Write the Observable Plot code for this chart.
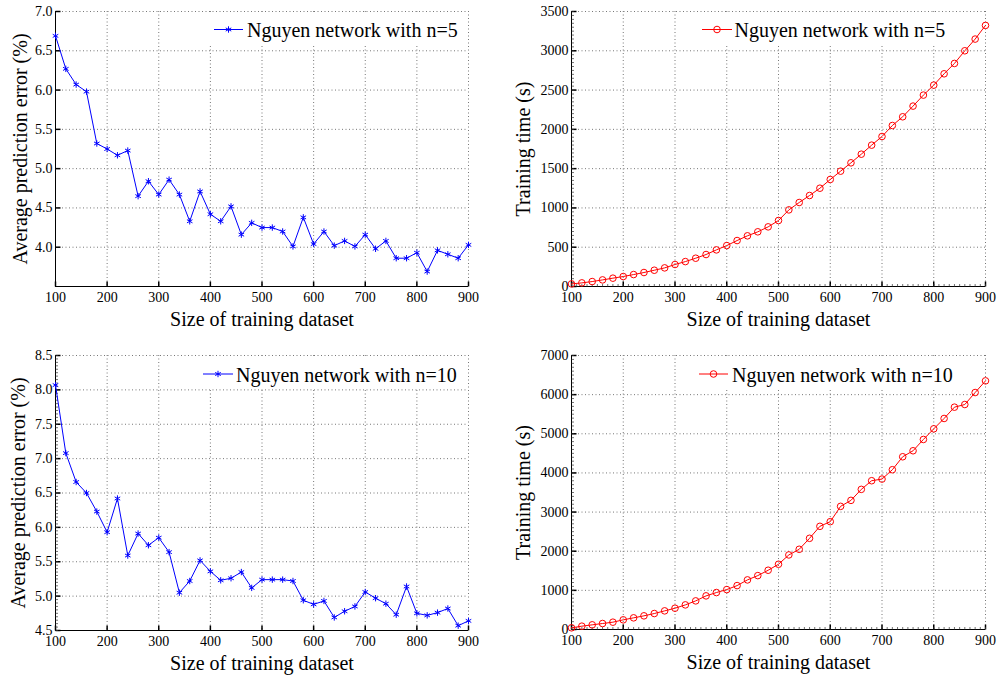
<!DOCTYPE html>
<html><head><meta charset="utf-8">
<script src="https://cdn.jsdelivr.net/npm/d3@7"></script>
<script src="https://cdn.jsdelivr.net/npm/@observablehq/plot@0.6"></script>
<style>
body{margin:0;background:#fff;}
#wrap{position:relative;width:1000px;height:680px;font-family:"Liberation Serif","Times New Roman",serif;}
.panel{position:absolute;}
.legend{position:absolute;}
</style></head><body><div id="wrap"></div>
<script>
// ---------- data ----------
const sizes = [100,120,140,160,180,200,220,240,260,280,300,320,340,360,380,400,420,440,460,480,500,520,540,560,580,600,620,640,660,680,700,720,740,760,780,800,820,840,860,880,900];
const errorN5 = [6.69,6.27,6.07,5.98,5.32,5.25,5.17,5.23,4.65,4.84,4.67,4.86,4.67,4.33,4.71,4.42,4.33,4.52,4.16,4.31,4.25,4.25,4.20,4.01,4.38,4.04,4.20,4.02,4.08,4.01,4.16,3.98,4.08,3.86,3.86,3.93,3.69,3.96,3.91,3.86,4.03];
const timeN5 = [33,46,63,84,106,127,152,178,207,237,280,317,360,407,466,521,585,645,696,759,840,975,1069,1158,1251,1362,1468,1574,1684,1799,1909,2049,2160,2296,2436,2563,2707,2839,3000,3149,3323];
const errorN10 = [8.07,7.08,6.66,6.50,6.23,5.93,6.42,5.59,5.91,5.74,5.85,5.64,5.05,5.22,5.52,5.36,5.23,5.26,5.35,5.12,5.24,5.24,5.24,5.22,4.94,4.88,4.93,4.69,4.78,4.85,5.06,4.97,4.89,4.73,5.14,4.75,4.72,4.76,4.82,4.57,4.64];
const timeN10 = [43,85,119,153,187,247,298,349,408,476,544,629,731,859,944,1020,1122,1267,1377,1514,1667,1905,2049,2330,2636,2755,3146,3299,3580,3801,3843,4082,4413,4566,4855,5127,5391,5680,5748,6054,6352];

const xTicks = [100,200,300,400,500,600,700,800,900];
const yTicksErr5 = [4.0,4.5,5.0,5.5,6.0,6.5,7.0];
const yTicksTime5 = [0,500,1000,1500,2000,2500,3000,3500];
const yTicksErr10 = [4.5,5.0,5.5,6.0,6.5,7.0,7.5,8.0,8.5];
const yTicksTime10 = [0,1000,2000,3000,4000,5000,6000,7000];

const xLabel = "Size of training dataset";
const errLabel = "Average prediction error (%)";
const timeLabel = "Training time (s)";
const legendN5 = "Nguyen network with n=5";
const legendN10 = "Nguyen network with n=10";

const BLUE = "#0000ff", RED = "#ff0000";
const FONT = "'Liberation Serif','Times New Roman',serif";

// tick-shaped custom symbols (inward ticks)
const tickUp = len => ({draw(ctx){ ctx.moveTo(0,0); ctx.lineTo(0,-len); }});
const tickRight = len => ({draw(ctx){ ctx.moveTo(0,0); ctx.lineTo(len,0); }});

const wrap = document.getElementById("wrap");

function panel(o) {
  const data = sizes.map((s,i) => ({size: s, value: o.values[i]}));
  const [x0, x1] = [100, 900];
  const marks = [
    Plot.gridX(xTicks, {stroke:"#777", strokeOpacity:1, strokeDasharray:"1,2.5"}),
    Plot.gridY(o.yTicks, {stroke:"#777", strokeOpacity:1, strokeDasharray:"1,2.5"}),
    Plot.axisX(xTicks, {tickSize:0, tickPadding:6, fontSize:14, label:null, fill:"#000"}),
    Plot.axisY(o.yTicks, {tickSize:0, tickPadding:3, fontSize:14, label:null, tickFormat:o.yFormat, fill:"#000"}),
    Plot.ruleX([x0], {stroke:"#000"}),
    Plot.ruleY([o.yDomain[0]], {stroke:"#000"}),
    Plot.dot(xTicks, {x:d=>d, frameAnchor:"bottom", symbol:tickUp(5), stroke:"#000", fill:"none"}),
    Plot.dot(o.yTicks, {y:d=>d, frameAnchor:"left", symbol:tickRight(5), stroke:"#000", fill:"none"})
  ];
  if (o.minorX) marks.push(Plot.dot(d3.range(x0, x1 + 1, o.minorX), {x:d=>d, frameAnchor:"bottom", symbol:tickUp(2.5), stroke:"#333", fill:"none", strokeWidth:0.7}));
  if (o.minorY) marks.push(Plot.dot(d3.range(o.yDomain[0], o.yDomain[1] + o.minorY/2, o.minorY), {y:d=>d, frameAnchor:"left", symbol:tickRight(2.5), stroke:"#333", fill:"none", strokeWidth:0.7}));
  marks.push(
    Plot.line(data, {x:"size", y:"value", stroke:o.color, strokeWidth:1}),
    Plot.dot(data, {x:"size", y:"value", symbol:o.symbol, r:o.r, stroke:o.color, fill:"none", strokeWidth:1}),
    Plot.text([xLabel], {frameAnchor:"bottom", dy:39, lineAnchor:"bottom", textAnchor:"middle", fontSize:20, text:d=>d, fill:"#000"}),
    Plot.text([o.yLabel], {frameAnchor:"left", dx:o.yLabelDx, rotate:-90, textAnchor:"middle", lineAnchor:"middle", fontSize:20, text:d=>d, fill:"#000"})
  );
  const chart = Plot.plot({
    width: o.width, height: o.height,
    marginLeft: o.m[0], marginRight: o.m[1], marginTop: o.m[2], marginBottom: o.m[3],
    x: {domain:[x0, x1]},
    y: {domain:o.yDomain},
    style: {fontFamily: FONT, fontSize:"14px", color:"#000", background:"transparent", overflow:"visible"},
    marks
  });
  const div = document.createElement("div");
  div.className = "panel";
  div.style.left = o.left + "px"; div.style.top = o.top + "px";
  div.style.width = o.width + "px"; div.style.height = o.height + "px";
  div.appendChild(chart);
  wrap.appendChild(div);

  // legend (drawn over the plot, white background, no border)
  const L = o.legend;
  const svg = d3.create("svg").attr("class","legend")
    .attr("width", L.w).attr("height", L.h)
    .style("left", L.x + "px").style("top", L.y + "px");
  svg.append("rect").attr("width", L.w).attr("height", L.h).attr("fill", "#fff");
  svg.append("line").attr("x1", L.l0 - L.x).attr("x2", L.l1 - L.x)
    .attr("y1", L.ly - L.y).attr("y2", L.ly - L.y).attr("stroke", o.color).attr("stroke-width", 1);
  const sym = o.symbol === "asterisk" ? d3.symbolAsterisk : d3.symbolCircle;
  svg.append("path").attr("d", d3.symbol(sym, Math.PI * o.r * o.r)())
    .attr("transform", `translate(${(L.l0 + L.l1)/2 - L.x},${L.ly - L.y})`)
    .attr("fill", "none").attr("stroke", o.color).attr("stroke-width", 1);
  svg.append("text").attr("x", L.tx - L.x).attr("y", L.ty - L.y)
    .attr("font-family", FONT).attr("font-size", 20).attr("fill", "#000").text(o.legendText);
  wrap.appendChild(svg.node());
}

const fmt1 = d3.format(".1f");
const fmt0 = d3.format("d");

panel({left:0, top:0, width:500, height:335, m:[55,32,11,49],
  values:errorN5, yDomain:[3.5,7.0], yTicks:yTicksErr5, yFormat:fmt1, yLabel:errLabel, yLabelDx:-35,
  color:BLUE, symbol:"asterisk", r:3, legendText:legendN5,
  legend:{x:204, y:14, w:262, h:30, l0:214, l1:243, ly:29.5, tx:247, ty:37}});

panel({left:500, top:0, width:500, height:335, m:[71,15,11,49],
  values:timeN5, yDomain:[0,3500], yTicks:yTicksTime5, yFormat:fmt0, yLabel:timeLabel, yLabelDx:-47.5,
  color:RED, symbol:"circle", r:3.3, legendText:legendN5, minorX:10, minorY:50,
  legend:{x:693, y:14, w:272, h:30, l0:702, l1:732, ly:29.5, tx:734.5, ty:37}});

panel({left:0, top:340, width:500, height:340, m:[55,32,15,50],
  values:errorN10, yDomain:[4.5,8.5], yTicks:yTicksErr10, yFormat:fmt1, yLabel:errLabel, yLabelDx:-36.5,
  color:BLUE, symbol:"asterisk", r:3, legendText:legendN10, minorY:0.05,
  legend:{x:194, y:358, w:272, h:31, l0:203, l1:233, ly:374, tx:236, ty:381.5}});

panel({left:500, top:340, width:500, height:340, m:[71,15,15,51],
  values:timeN10, yDomain:[0,7000], yTicks:yTicksTime10, yFormat:fmt0, yLabel:timeLabel, yLabelDx:-47.5,
  color:RED, symbol:"circle", r:3.3, legendText:legendN10, minorX:10, minorY:100,
  legend:{x:690, y:358, w:275, h:31, l0:699, l1:728, ly:374, tx:732, ty:381.5}});
</script></body></html>
